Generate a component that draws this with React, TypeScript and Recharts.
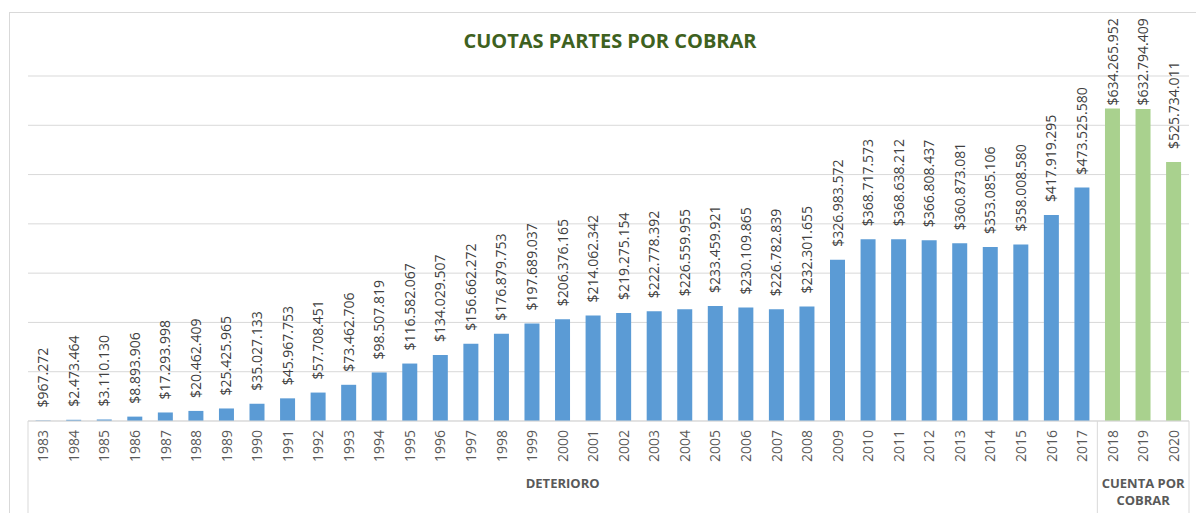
import React from 'react';
import { BarChart, Bar, XAxis, YAxis, CartesianGrid, Cell, LabelList } from 'recharts';

const years = [
  '1983', '1984', '1985', '1986', '1987', '1988', '1989', '1990', '1991', '1992',
  '1993', '1994', '1995', '1996', '1997', '1998', '1999', '2000', '2001', '2002',
  '2003', '2004', '2005', '2006', '2007', '2008', '2009', '2010', '2011', '2012',
  '2013', '2014', '2015', '2016', '2017', '2018', '2019', '2020',
];

const amounts = [
  967272, 2473464, 3110130, 8893906, 17293998, 20462409, 25425965, 35027133, 45967753, 57708451,
  73462706, 98507819, 116582067, 134029507, 156662272, 176879753, 197689037, 206376165, 214062342, 219275154,
  222778392, 226559955, 233459921, 230109865, 226782839, 232301655, 326983572, 368717573, 368638212, 366808437,
  360873081, 353085106, 358008580, 417919295, 473525580, 634265952, 632794409, 525734011,
];

// category groups under the year axis
const groupLabels = [['DETERIORO'], ['CUENTA POR', 'COBRAR']];
const groupSizes = [35, 3];
const groupColors = ['#5B9BD5', '#A9D18E'];

const yTicks = [0, 100000000, 200000000, 300000000, 400000000, 500000000, 600000000, 700000000];

const groupOf = (i: number) => {
  let acc = 0;
  for (let g = 0; g < groupSizes.length; g++) {
    acc += groupSizes[g];
    if (i < acc) return g;
  }
  return groupSizes.length - 1;
};

const groupStarts = groupSizes.map((_, g) => groupSizes.slice(0, g).reduce((a, b) => a + b, 0));

const rows = years.map((year, i) => ({ year, value: amounts[i], group: groupOf(i) }));

const fmt = (v: number) => '$' + String(Math.round(v)).replace(/\B(?=(\d{3})+(?!\d))/g, '.');

const FONT = '"Open Sans", "DejaVu Sans", sans-serif';

const YearTick = (props: any) => {
  const { x, y, payload, index } = props;
  const half = payload && payload.offset ? payload.offset : 15.28;
  const idx = typeof index === 'number' ? index : payload.index;
  const g = groupStarts.indexOf(idx);
  const isLast = idx === years.length - 1;
  const ty = y + 9;
  return (
    <g>
      <text
        x={x}
        y={ty}
        transform={`rotate(-90, ${x}, ${ty})`}
        textAnchor="end"
        dy="0.36em"
        fontSize={14}
        fill="#595959"
        fontFamily={FONT}
      >
        {payload.value}
      </text>
      {g >= 0 && (
        <>
          <line x1={x - half} x2={x - half} y1={y} y2={y + 100} stroke="#d9d9d9" strokeWidth={1} />
          {groupLabels[g].map((line, li) => (
            <text
              key={li}
              x={x - half + groupSizes[g] * half}
              y={y + 64 + li * 17}
              textAnchor="middle"
              dominantBaseline="middle"
              fontSize={13}
              fontWeight="bold"
              fill="#595959"
              fontFamily={FONT}
            >
              {line}
            </text>
          ))}
        </>
      )}
      {isLast && (
        <line x1={x + half} x2={x + half} y1={y} y2={y + 100} stroke="#d9d9d9" strokeWidth={1} />
      )}
    </g>
  );
};

const ValueLabel = (props: any) => {
  const { x, y, width, value } = props;
  const cx = x + width / 2;
  const text = fmt(value);
  // rough text length for Open Sans 14px
  let len = 0;
  for (const ch of text) len += ch === '.' ? 3.8 : 8;
  let start = y - 13;
  if (start - len < 18) start = 18 + len;
  return (
    <text
      x={cx}
      y={start}
      transform={`rotate(-90, ${cx}, ${start})`}
      textAnchor="start"
      dy="0.36em"
      fontSize={14}
      fill="#404040"
      fontFamily={FONT}
    >
      {text}
    </text>
  );
};

export default function App() {
  return (
    <div style={{ position: 'absolute', left: 0, top: 0, width: 1196, height: 513, background: '#fff', overflow: 'hidden' }}>
      <div
        style={{
          position: 'absolute',
          left: 9,
          top: 12,
          width: 1210,
          height: 530,
          border: '1px solid #d9d9d9',
        }}
      />
      <div
        style={{
          position: 'absolute',
          left: 0,
          top: 27,
          width: 1220,
          textAlign: 'center',
          fontFamily: FONT,
          fontWeight: 700,
          fontSize: 20,
          color: '#3E6120',
        }}
      >
        CUOTAS PARTES POR COBRAR
      </div>
      <div style={{ position: 'absolute', left: 0, top: 0 }}>
        <BarChart
          width={1196}
          height={513}
          data={rows}
          margin={{ top: 76, right: 7, left: 28, bottom: 0 }}
          barCategoryGap="25%"
        >
          <CartesianGrid vertical={false} stroke="#d9d9d9" />
          <YAxis hide domain={[0, 700000000]} ticks={yTicks} />
          <XAxis
            dataKey="year"
            interval={0}
            height={92}
            tickLine={false}
            tickSize={0}
            tickMargin={0}
            axisLine={{ stroke: '#d9d9d9' }}
            tick={<YearTick />}
          />
          <Bar dataKey="value" isAnimationActive={false}>
            {rows.map((r, i) => (
              <Cell key={i} fill={groupColors[r.group]} />
            ))}
            <LabelList dataKey="value" content={<ValueLabel />} />
          </Bar>
        </BarChart>
      </div>
    </div>
  );
}
